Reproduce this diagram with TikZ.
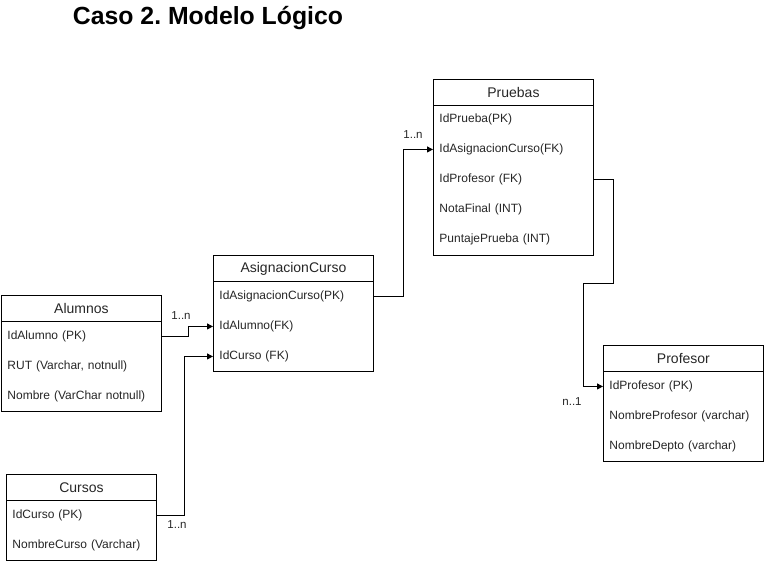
\documentclass[tikz,border=0pt]{standalone}
\usepackage{fontspec}
\setmainfont{Liberation Sans}
\usetikzlibrary{arrows.meta}
\frenchspacing
\begin{document}
\begin{tikzpicture}[x=1pt,y=-1pt,
  line width=0.9pt,
  boxframe/.style={draw, minimum width=#1, minimum height=26pt, inner sep=0pt, anchor=north west, font=\fontsize{14}{16}\selectfont, text=black!85},
  rowitem/.style={text width=#1, inner xsep=6pt, inner ysep=0pt, minimum height=30pt, align=left, anchor=north west, font=\fontsize{12}{14}\selectfont, text=black!85},
  conn/.style={draw, -{Triangle[length=6pt,width=6pt]}},
  card/.style={font=\fontsize{11.5}{13}\selectfont, text=black!85, inner sep=0pt}
]
\useasboundingbox (0,0) rectangle (764,563);

\node[font=\fontsize{24.8}{28}\selectfont\bfseries, inner sep=0pt] (title) at (208,18.5) {Caso 2. Modelo Lógico};

% Pruebas
\node[draw, minimum width=160pt, minimum height=176pt, inner sep=0pt, anchor=north west] (pr) at (433,79) {};
\node[boxframe=160pt] (prh) at (433,79) {Pruebas};
\node[rowitem=148pt] (pr1) at (433,104) {IdPrueba(PK)};
\node[rowitem=148pt] (pr2) at (433,134) {IdAsignacionCurso(FK)};
\node[rowitem=148pt] (pr3) at (433,164) {IdProfesor (FK)};
\node[rowitem=148pt] (pr4) at (433,194) {NotaFinal (INT)};
\node[rowitem=148pt] (pr5) at (433,224) {PuntajePrueba (INT)};

% AsignacionCurso
\node[draw, minimum width=160pt, minimum height=116pt, inner sep=0pt, anchor=north west] (as) at (213,255) {};
\node[boxframe=160pt] (ash) at (213,255) {AsignacionCurso};
\node[rowitem=148pt] (as1) at (213,281) {IdAsignacionCurso(PK)};
\node[rowitem=148pt] (as2) at (213,311) {IdAlumno(FK)};
\node[rowitem=148pt] (as3) at (213,341) {IdCurso (FK)};

% Alumnos
\node[draw, minimum width=160pt, minimum height=116pt, inner sep=0pt, anchor=north west] (al) at (1,295) {};
\node[boxframe=160pt] (alh) at (1,295) {Alumnos};
\node[rowitem=148pt] (al1) at (1,321) {IdAlumno (PK)};
\node[rowitem=148pt] (al2) at (1,351) {RUT (Varchar, notnull)};
\node[rowitem=148pt] (al3) at (1,381) {Nombre (VarChar notnull)};

% Cursos
\node[draw, minimum width=150pt, minimum height=86pt, inner sep=0pt, anchor=north west] (cu) at (6,474) {};
\node[boxframe=150pt] (cuh) at (6,474) {Cursos};
\node[rowitem=138pt] (cu1) at (6,500) {IdCurso (PK)};
\node[rowitem=138pt] (cu2) at (6,530) {NombreCurso (Varchar)};

% Profesor
\node[draw, minimum width=160pt, minimum height=116pt, inner sep=0pt, anchor=north west] (pf) at (603,345) {};
\node[boxframe=160pt] (pfh) at (603,345) {Profesor};
\node[rowitem=148pt] (pf1) at (603,371) {IdProfesor (PK)};
\node[rowitem=148pt] (pf2) at (603,401) {NombreProfesor (varchar)};
\node[rowitem=148pt] (pf3) at (603,431) {NombreDepto (varchar)};

% connectors
\draw[conn] (al1.east) -- ++(27,0) |- (as2.west);
\draw[conn] (cu1.east) -- ++(28,0) |- (as3.west);
\draw[conn] (as1.east) -- ++(30,0) |- (pr2.west);
\draw[conn] (pr3.east) -- ++(20,0) -- ++(0,104) -- ++(-30,0) |- (pf1.west);

% cardinalities
\node[card] (c1) at (181,316) {1..n};
\node[card] (c2) at (177,525) {1..n};
\node[card] (c3) at (413,135) {1..n};
\node[card] (c4) at (572,402) {n..1};
\end{tikzpicture}
\end{document}
